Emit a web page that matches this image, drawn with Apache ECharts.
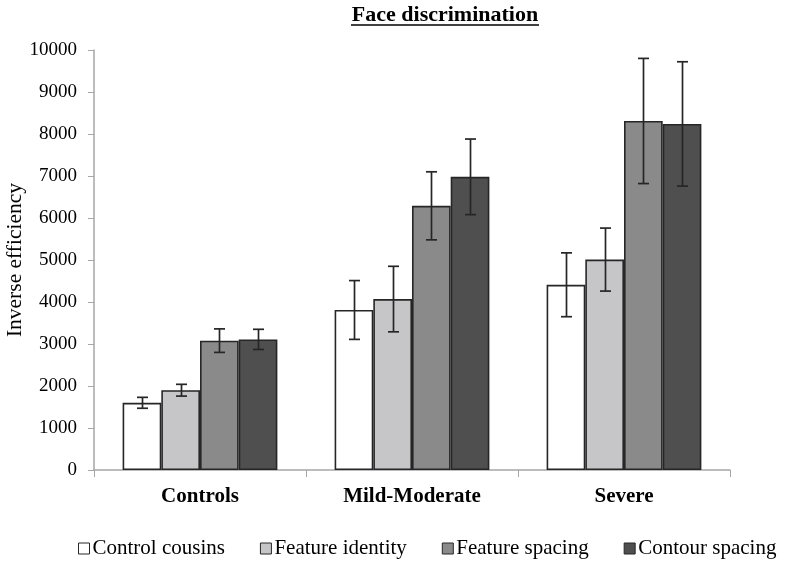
<!DOCTYPE html>
<html><head><meta charset="utf-8">
<script src="https://cdn.jsdelivr.net/npm/echarts@6/dist/echarts.min.js"></script>
<style>html,body{margin:0;padding:0;background:#fff}#c{width:787px;height:561px}</style>
</head><body><div id="c"></div>
<script>
const categories = ['Controls', 'Mild-Moderate', 'Severe'];
const seriesNames = ['Control cousins', 'Feature identity', 'Feature spacing', 'Contour spacing'];
const controlCousins = [1600, 3810, 4410];
const featureIdentity = [1900, 4070, 5010];
const featureSpacing = [3080, 6290, 8310];
const contourSpacing = [3110, 6980, 8240];
const errControlCousins = [130, 700, 760];
const errFeatureIdentity = [140, 780, 750];
const errFeatureSpacing = [280, 810, 1490];
const errContourSpacing = [240, 900, 1480];
const yTicks = [0, 1000, 2000, 3000, 4000, 5000, 6000, 7000, 8000, 9000, 10000];

const values = [controlCousins, featureIdentity, featureSpacing, contourSpacing];
const errors = [errControlCousins, errFeatureIdentity, errFeatureSpacing, errContourSpacing];
const colors = ['#ffffff', '#c6c6c8', '#8a8a8a', '#4f4f4f'];
const serif = '"Liberation Serif", "Times New Roman", serif';
const GROUP = 0.73;

const chart = echarts.init(document.getElementById('c'));
const series = [];
values.forEach((v, i) => {
  series.push({
    name: seriesNames[i], type: 'bar', data: v,
    barGap: '0%', barCategoryGap: '27%',
    itemStyle: { color: colors[i], borderColor: '#262626', borderWidth: 1.6 },
    emphasis: { disabled: true }
  });
});
values.forEach((v, i) => {
  series.push({
    type: 'custom', z: 10, silent: true,
    data: v.map((val, j) => [j, val - errors[i][j], val + errors[i][j]]),
    renderItem: function (params, api) {
      const band = api.size([1, 0])[0];
      const bw = band * GROUP / 4;
      const lo = api.coord([api.value(0), api.value(1)]);
      const hi = api.coord([api.value(0), api.value(2)]);
      const x = Math.round(lo[0] + (i - 1.5) * bw) + 0.5;
      const cap = 5.5;
      const st = { stroke: '#262626', lineWidth: 1.7 };
      return { type: 'group', children: [
        { type: 'line', shape: { x1: x, y1: lo[1], x2: x, y2: hi[1] }, style: st },
        { type: 'line', shape: { x1: x - cap, y1: lo[1], x2: x + cap, y2: lo[1] }, style: st },
        { type: 'line', shape: { x1: x - cap, y1: hi[1], x2: x + cap, y2: hi[1] }, style: st }
      ]};
    }
  });
});

chart.setOption({
  animation: false,
  backgroundColor: '#fff',
  title: {
    text: 'Face discrimination', left: 440, top: -1, textAlign: 'center',
    textStyle: { fontFamily: serif, fontSize: 22, fontWeight: 'bold', color: '#000' }
  },
  graphic: [{ type: 'line', shape: { x1: 351, y1: 25, x2: 539, y2: 25 }, style: { stroke: '#000', lineWidth: 1.6 } }],
  grid: { left: 94, right: 57, top: 50, bottom: 91, containLabel: false, outerBoundsMode: 'none' },
  legend: {
    data: seriesNames, top: 533, left: 73, icon: 'rect', itemWidth: 11, itemHeight: 11, itemGap: 35,
    textStyle: { fontFamily: serif, fontSize: 21, color: '#000', padding: [0, 0, 0, -2] },
    itemStyle: { borderColor: '#262626', borderWidth: 1 }
  },
  xAxis: {
    type: 'category', data: categories,
    axisLine: { lineStyle: { color: '#a6a6a6', width: 1.5 } },
    axisTick: { show: true, length: 7, lineStyle: { color: '#a6a6a6' } },
    axisLabel: { fontFamily: serif, fontSize: 21, fontWeight: 'bold', color: '#000', margin: 16 }
  },
  yAxis: {
    type: 'value', min: 0, max: 10000, interval: 1000,
    name: 'Inverse efficiency', nameLocation: 'middle', nameGap: 68, nameMoveOverlap: false,
    nameTextStyle: { fontFamily: serif, fontSize: 21.5, color: '#000' },
    axisLine: { show: true, lineStyle: { color: '#a6a6a6', width: 1.5 } },
    axisTick: { show: true, length: 6, lineStyle: { color: '#a6a6a6' } },
    splitLine: { show: false },
    axisLabel: { fontFamily: serif, fontSize: 19, color: '#000', margin: 17,
      formatter: v => yTicks.includes(v) ? String(v) : '' }
  },
  series: series
});
</script></body></html>
